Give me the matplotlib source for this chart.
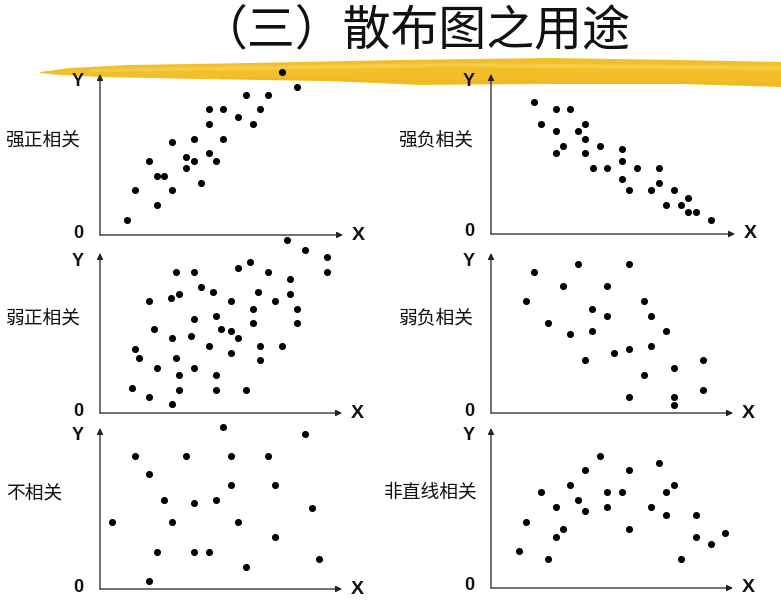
import matplotlib
matplotlib.use("Agg")
import matplotlib.pyplot as plt
from matplotlib.patches import Polygon

# ---------------- data (pixel offsets from each panel's origin) ----------------
title = "（三）散布图之用途"
panel_labels = ["强正相关", "强负相关", "弱正相关", "弱负相关", "不相关", "非直线相关"]

strong_pos_x = [182, 197, 146, 168, 109, 123, 160, 138, 109, 153, 72, 94, 123, 49, 86, 94, 109, 116, 86, 57, 64, 101, 35, 72, 57, 27]
strong_pos_y = [163, 148, 140, 140, 126, 126, 126, 118, 111, 111, 93, 96, 96, 74, 78, 74, 82, 74, 67, 59, 59, 52, 45, 45, 30, 15]

strong_neg_x = [43, 50, 65, 79, 65, 94, 87, 94, 72, 65, 94, 109, 131, 131, 102, 116, 146, 168, 131, 138, 160, 168, 183, 197, 175, 190, 197, 205, 220]
strong_neg_y = [132, 110, 125, 125, 103, 110, 103, 95, 88, 81, 81, 88, 85, 73, 66, 66, 66, 66, 55, 44, 44, 51, 44, 36, 29, 29, 22, 22, 14]

weak_pos_x = [187, 205, 227, 227, 76, 94, 138, 150, 168, 190, 101, 113, 79, 71, 49, 131, 158, 190, 175, 153, 197, 94, 116, 153, 197, 54, 121, 131, 138, 72, 91, 109, 160, 182, 131, 35, 39, 76, 160, 57, 94, 79, 116, 32, 79, 116, 146, 49, 72]
weak_pos_y = [173, 163, 156, 141, 141, 141, 145, 151, 141, 134, 126, 121, 119, 115, 112, 112, 121, 119, 112, 104, 104, 94, 97, 90, 90, 84, 84, 82, 75, 75, 77, 67, 67, 67, 60, 64, 55, 55, 53, 45, 45, 38, 38, 25, 23, 23, 23, 16, 9]

weak_neg_x = [43, 87, 138, 35, 72, 116, 101, 116, 153, 160, 57, 79, 101, 175, 123, 138, 160, 94, 212, 183, 153, 212, 138, 183, 183]
weak_neg_y = [141, 149, 149, 112, 127, 127, 104, 97, 112, 97, 90, 79, 82, 82, 60, 64, 67, 53, 53, 45, 38, 23, 16, 16, 8]

none_x = [123, 205, 35, 86, 131, 168, 49, 131, 175, 64, 94, 116, 212, 12, 72, 138, 175, 57, 94, 109, 219, 146, 49]
none_y = [162, 155, 133, 133, 133, 133, 115, 104, 104, 89, 86, 89, 81, 67, 67, 67, 52, 37, 37, 37, 30, 22, 8]

nonlin_x = [109, 94, 138, 168, 79, 183, 50, 116, 131, 175, 87, 65, 116, 160, 94, 175, 205, 35, 72, 138, 234, 65, 205, 220, 28, 57, 190]
nonlin_y = [132, 118, 118, 125, 103, 103, 96, 96, 96, 96, 88, 81, 81, 81, 77, 73, 73, 66, 59, 59, 55, 51, 51, 44, 37, 29, 29]

# ---------------- layout ----------------
W, H = 781, 606
fig = plt.figure(figsize=(W / 100, H / 100), dpi=100)
fig.patch.set_facecolor("white")

cjk = ["Noto Sans CJK SC", "DejaVu Sans"]

# overlay axes in pixel coordinates for decoration
bg = fig.add_axes([0, 0, 1, 1], zorder=0)
bg.set_xlim(0, W)
bg.set_ylim(H, 0)
bg.axis("off")

# yellow brush stroke
stroke = [(40, 72), (70, 68), (130, 65), (250, 63), (400, 60), (550, 58), (680, 60), (781, 62),
          (781, 87), (680, 84), (550, 84), (420, 85), (330, 81), (200, 79), (100, 77), (60, 75), (40, 73)]
bg.add_patch(Polygon(stroke, closed=True, facecolor="#F1BF2A", edgecolor="none"))
light = [(90, 69), (250, 66), (450, 63), (781, 66), (781, 70), (450, 67), (250, 70), (90, 72)]
bg.add_patch(Polygon(light, closed=True, facecolor="#F8DA70", edgecolor="none", alpha=0.45))
dark = [(220, 77), (420, 80), (600, 80), (781, 82), (781, 85), (600, 83), (420, 83), (220, 79)]
bg.add_patch(Polygon(dark, closed=True, facecolor="#E8B11C", edgecolor="none", alpha=0.35))

bg.text(415, 31, title, ha="center", va="center", fontsize=34.5, family=cjk, color="#111111")

panels = [
    # origin x, origin y, end x, top y, label center x, label y
    (100, 235, 343, 74, 43, 140, strong_pos_x, strong_pos_y),
    (491, 234, 735, 74, 436, 140, strong_neg_x, strong_neg_y),
    (100, 413, 342, 253, 43, 318, weak_pos_x, weak_pos_y),
    (491, 413, 733, 253, 436, 318, weak_neg_x, weak_neg_y),
    (100, 589, 342, 428, 34, 493, none_x, none_y),
    (491, 588, 733, 428, 431, 492, nonlin_x, nonlin_y),
]

for (ox, oy, ex, ty, lx, ly, xs, ys), lab in zip(panels, panel_labels):
    w = ex - ox
    h = oy - ty
    ax = fig.add_axes([ox / W, (H - oy) / H, w / W, h / H], zorder=2)
    ax.set_xlim(0, w)
    ax.set_ylim(0, h)
    ax.axis("off")
    ax.patch.set_visible(False)
    arrow = dict(arrowstyle="-|>", lw=0.9, color="#222222", mutation_scale=9,
                 shrinkA=0, shrinkB=0)
    ax.annotate("", xy=(w, 0), xytext=(0, 0), arrowprops=arrow, annotation_clip=False)
    ax.annotate("", xy=(0, h), xytext=(0, 0), arrowprops=arrow, annotation_clip=False)
    ax.scatter(xs, ys, s=26, color="black", clip_on=False, zorder=3, linewidths=0)
    ax.text(-22, h - 8, "Y", ha="center", va="center", fontsize=13, fontweight="bold",
            family="Liberation Sans", color="#111111")
    ax.text(-22, 2, "0", ha="center", va="center", fontsize=13, fontweight="bold",
            family="Liberation Sans", color="#111111")
    ax.text(w + 15, 0, "X", ha="center", va="center", fontsize=14, fontweight="bold",
            family="Liberation Sans", color="#111111")
    bg.text(lx, ly, lab, ha="center", va="center", fontsize=13.5, family=cjk, color="#111111")

fig.savefig("out.png", dpi=100, facecolor="white")
